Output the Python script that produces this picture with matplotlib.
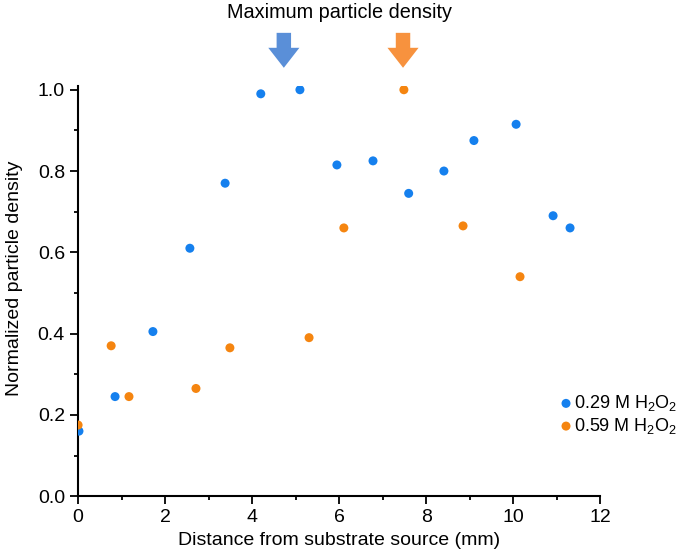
import numpy as np
import matplotlib.pyplot as plt
from matplotlib.ticker import MultipleLocator

plt.rcParams['font.family'] = ['Liberation Sans', 'DejaVu Sans']
plt.rcParams['mathtext.fontset'] = 'custom'
plt.rcParams['mathtext.rm'] = 'Liberation Sans'

# 0.29 M H2O2
x_029 = [0.02, 0.85, 1.72, 2.57, 3.38, 4.2, 5.1, 5.95, 6.78, 7.6, 8.41, 9.1, 10.07, 10.92, 11.31]
y_029 = [0.16, 0.245, 0.405, 0.61, 0.77, 0.99, 1.0, 0.815, 0.825, 0.745, 0.80, 0.875, 0.915, 0.69, 0.66]
# 0.59 M H2O2
x_059 = [0.0, 0.76, 1.17, 2.71, 3.49, 5.31, 6.11, 7.49, 8.85, 10.16]
y_059 = [0.175, 0.37, 0.245, 0.265, 0.365, 0.39, 0.66, 1.0, 0.665, 0.54]

# arrow positions (max density)
arrow_x = [4.73, 7.47]
arrow_colors = ['#5a8fd8', '#f7923e']

fig = plt.figure(figsize=(6.85, 5.6), dpi=100)
ax = fig.add_axes([0.114, 0.114, 0.762, 0.733])

ax.scatter(x_029, y_029, s=42, color='#1580ee', edgecolors='none', label=r'0.29 M H$_\mathrm{2}$O$_\mathrm{2}$', zorder=3)
ax.scatter(x_059, y_059, s=42, color='#f58510', edgecolors='none', label=r'0.59 M H$_\mathrm{2}$O$_\mathrm{2}$', zorder=3)

ax.set_xlim(0, 12)
ax.set_ylim(0, 1.01)
ax.xaxis.set_major_locator(MultipleLocator(2))
ax.xaxis.set_minor_locator(MultipleLocator(1))
ax.yaxis.set_major_locator(MultipleLocator(0.2))
ax.yaxis.set_minor_locator(MultipleLocator(0.1))
ax.yaxis.set_major_formatter(plt.FormatStrFormatter('%.1f'))
ax.tick_params(which='major', length=6, width=1.3, labelsize=14, color='black')
ax.tick_params(which='minor', length=3, width=1.3)
for s in ['top', 'right']:
    ax.spines[s].set_visible(False)
for s in ['left', 'bottom']:
    ax.spines[s].set_linewidth(1.5)

ax.set_xlabel('Distance from substrate source (mm)', fontsize=14, labelpad=4)
ax.set_ylabel('Normalized particle density', fontsize=14, labelpad=6)
ax.yaxis.set_label_coords(-0.105, 0.53)

for xa, c in zip(arrow_x, arrow_colors):
    ax.annotate('', xy=(xa, 1.054), xytext=(xa, 1.14), xycoords='data', annotation_clip=False,
                arrowprops=dict(arrowstyle='simple,head_width=1.4,head_length=0.9,tail_width=0.65',
                                color=c, lw=0, mutation_scale=16, shrinkA=0, shrinkB=0))

fig.text(0.496, 0.995, 'Maximum particle density', ha='center', va='top', fontsize=14.3)

ax.legend(loc='center left', bbox_to_anchor=(0.895, 0.199), frameon=False, fontsize=13,
          handletextpad=-0.3, handlelength=1.5, markerscale=1.0, labelspacing=0.15, borderaxespad=0)

fig.savefig('out.png', dpi=100)
